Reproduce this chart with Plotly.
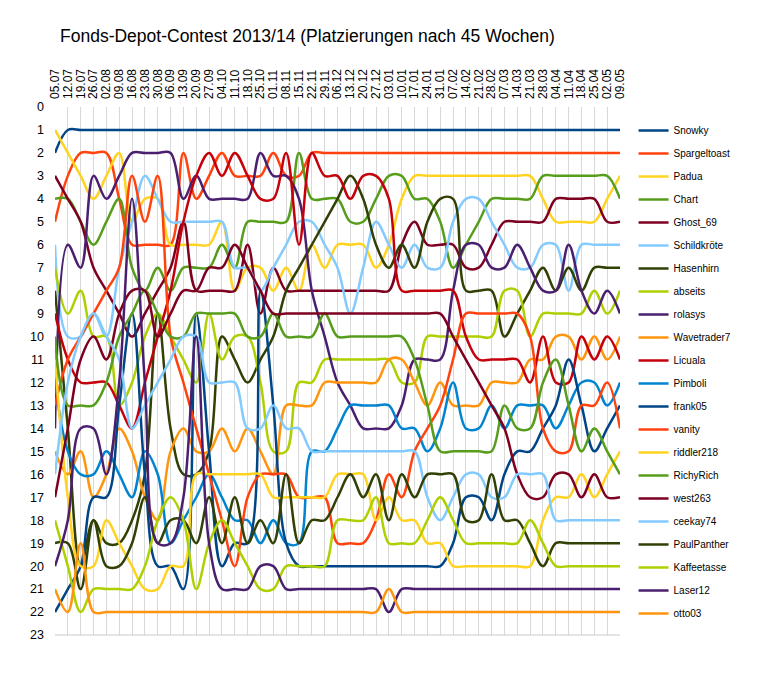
import plotly.graph_objects as go

# Wochen (Stichtage)
wochen = ['05.07', '12.07', '19.07', '26.07', '02.08', '09.08', '16.08', '23.08', '30.08',
          '06.09', '13.09', '20.09', '27.09', '04.10', '11.10', '18.10', '25.10', '01.11',
          '08.11', '15.11', '22.11', '29.11', '06.12', '13.12', '20.12', '27.12', '03.01',
          '10.01', '17.01', '24.01', '31.01', '07.02', '14.02', '21.02', '28.02', '07.03',
          '14.03', '21.03', '28.03', '04.04', '11.04', '18.04', '25.04', '02.05', '09.05']

# Platzierungen je Teilnehmer
snowky = [2] + [1] * 44
spargeltoast = [5, 3, 2, 2, 2, 4, 6, 6, 6, 6, 2, 4, 3, 2, 3, 3, 3, 2, 3, 3, 2, 2] + [2] * 23
padua = [1, 2, 3, 4, 3, 2, 5, 4, 4, 6, 6, 6, 6, 5, 8, 7, 7, 8, 7, 8, 6, 7,
         6, 6, 6, 7, 6, 4, 3, 3, 3, 3, 3, 3, 3, 3, 3, 3, 4, 5, 5, 5, 5, 4, 3]
chart = [4, 4, 5, 6, 5, 4, 7, 8, 7, 8, 7, 7, 7, 6, 7, 5, 5, 5, 5, 2, 4, 4,
         4, 5, 5, 4, 3, 3, 4, 4, 5, 7, 6, 5, 4, 4, 4, 4, 3, 3, 3, 3, 3, 3, 4]
ghost_69 = [3, 4, 5, 7, 8, 9, 10, 9, 8, 7, 5, 8, 8, 8, 8, 6, 9, 7, 8, 8, 8, 8,
            8, 8, 8, 8, 8, 6, 5, 6, 6, 6, 7, 7, 6, 5, 5, 5, 5, 4, 4, 4, 4, 5, 5]
schildkroete = [6, 10, 10, 9, 10, 7, 5, 3, 4, 5, 5, 5, 5, 5, 7, 7, 8, 7, 6, 5, 5, 6,
                7, 9, 7, 5, 6, 7, 6, 7, 7, 5, 4, 4, 5, 6, 7, 7, 6, 6, 8, 6, 6, 6, 6]
hasenhirn = [8, 14, 20, 18, 19, 19, 18, 16, 9, 14, 16, 16, 15, 10, 11, 12, 11, 10, 8, 7, 6, 5,
             4, 3, 4, 6, 7, 6, 7, 5, 4, 4, 8, 8, 8, 10, 9, 8, 7, 8, 7, 8, 7, 7, 7]
abseits = [7, 9, 8, 10, 10, 13, 12, 10, 9, 10, 11, 12, 9, 11, 10, 10, 12, 15, 15, 12, 12, 11,
           11, 11, 11, 11, 11, 12, 12, 10, 10, 10, 10, 10, 10, 8, 8, 10, 9, 9, 9, 9, 8, 9, 8]
rolasys = [14, 6, 7, 3, 4, 3, 2, 2, 2, 2, 4, 3, 4, 4, 4, 4, 2, 3, 3, 4, 8, 10,
           12, 13, 14, 14, 14, 13, 11, 11, 11, 8, 6, 6, 7, 7, 6, 7, 8, 8, 6, 8, 9, 8, 9]
wavetrader7 = [15, 16, 15, 17, 16, 14, 15, 17, 18, 15, 14, 15, 15, 14, 15, 14, 15, 16, 13, 13, 13, 12,
               12, 12, 12, 12, 11, 11, 12, 13, 12, 13, 13, 13, 12, 12, 12, 11, 11, 10, 10, 11, 10, 11, 10]
licuala = [9, 11, 12, 12, 12, 13, 14, 12, 10, 8, 5, 3, 2, 3, 2, 3, 4, 4, 2, 6, 2, 3,
           3, 4, 3, 3, 4, 8, 8, 8, 8, 8, 10, 11, 11, 11, 11, 12, 10, 12, 12, 10, 11, 10, 11]
pimboli = [12, 15, 16, 16, 15, 16, 17, 15, 16, 19, 18, 17, 16, 17, 18, 18, 19, 18, 19, 19, 15, 15,
           14, 13, 13, 13, 13, 14, 14, 15, 14, 12, 14, 14, 13, 14, 13, 13, 13, 14, 13, 12, 12, 13, 12]
frank05 = [22, 21, 20, 17, 17, 13, 9, 16, 20, 20, 21, 9, 15, 20, 19, 19, 8, 13, 19, 20, 20, 20,
           20, 20, 20, 20, 20, 20, 20, 20, 20, 19, 17, 17, 18, 16, 15, 15, 14, 13, 11, 13, 15, 14, 13]
vanity = [13, 11, 10, 9, 8, 7, 3, 5, 3, 10, 12, 14, 16, 18, 20, 17, 16, 16, 16, 17, 17, 17,
          19, 19, 19, 18, 16, 17, 15, 14, 13, 11, 9, 9, 9, 9, 9, 10, 14, 15, 15, 13, 13, 12, 14]
riddler218 = [11, 17, 20, 20, 18, 19, 20, 21, 21, 20, 20, 16, 16, 16, 16, 16, 16, 17, 17, 17, 17, 17,
              16, 16, 16, 18, 17, 18, 18, 19, 19, 20, 20, 20, 20, 20, 20, 20, 18, 17, 17, 16, 17, 16, 15]
richyrich = [10, 13, 13, 13, 12, 10, 9, 8, 9, 10, 10, 9, 9, 9, 9, 10, 10, 9, 10, 10, 10, 9,
             10, 10, 10, 10, 10, 10, 11, 13, 15, 15, 15, 15, 15, 13, 14, 14, 12, 11, 13, 15, 14, 15, 16]
west263 = [17, 14, 11, 10, 11, 9, 8, 8, 10, 9, 8, 8, 7, 7, 6, 7, 8, 9, 9, 9, 9, 9,
           9, 9, 9, 9, 9, 9, 9, 9, 9, 10, 11, 12, 13, 14, 16, 17, 17, 16, 16, 17, 16, 17, 17]
ceekay74 = [16, 12, 10, 9, 10, 11, 14, 13, 12, 11, 10, 10, 12, 12, 12, 14, 14, 13, 14, 14, 15, 15,
            15, 15, 15, 15, 15, 15, 15, 17, 18, 17, 16, 16, 17, 17, 16, 16, 16, 18, 18, 18, 18, 18, 18]
paulpanther = [19, 19, 21, 18, 20, 20, 19, 17, 19, 18, 18, 19, 17, 19, 17, 19, 18, 19, 16, 19, 18, 18,
               17, 16, 17, 16, 18, 16, 17, 16, 16, 16, 18, 18, 16, 18, 18, 19, 20, 19, 19, 19, 19, 19, 19]
kaffeetasse = [18, 20, 22, 21, 21, 21, 21, 20, 18, 17, 18, 21, 19, 18, 19, 20, 21, 21, 20, 20, 20, 20,
               18, 18, 18, 17, 19, 19, 19, 18, 17, 18, 19, 19, 19, 19, 19, 18, 19, 20, 20, 20, 20, 20, 20]
laser12 = [20, 18, 14, 14, 16, 12, 4, 12, 19, 19, 17, 10, 19, 21, 21, 21, 20, 20, 21, 21, 21, 21,
           21, 21, 21, 21, 22] + [21] * 18
otto03 = [21, 22, 19] + [22] * 19 + [22, 22, 22, 22, 21] + [22] * 18

serien = [
    ('Snowky', snowky, '#004586'),
    ('Spargeltoast', spargeltoast, '#ff420e'),
    ('Padua', padua, '#ffd320'),
    ('Chart', chart, '#579d1c'),
    ('Ghost_69', ghost_69, '#7e0021'),
    ('Schildkröte', schildkroete, '#83caff'),
    ('Hasenhirn', hasenhirn, '#314004'),
    ('abseits', abseits, '#aecf00'),
    ('rolasys', rolasys, '#4b1f6f'),
    ('Wavetrader7', wavetrader7, '#ff950e'),
    ('Licuala', licuala, '#c5000b'),
    ('Pimboli', pimboli, '#0084d1'),
    ('frank05', frank05, '#004586'),
    ('vanity', vanity, '#ff420e'),
    ('riddler218', riddler218, '#ffd320'),
    ('RichyRich', richyrich, '#579d1c'),
    ('west263', west263, '#7e0021'),
    ('ceekay74', ceekay74, '#83caff'),
    ('PaulPanther', paulpanther, '#314004'),
    ('Kaffeetasse', kaffeetasse, '#aecf00'),
    ('Laser12', laser12, '#4b1f6f'),
    ('otto03', otto03, '#ff950e'),
]

x = list(range(len(wochen)))

fig = go.Figure()
for name, werte, farbe in serien:
    fig.add_trace(go.Scatter(
        x=x, y=werte, name=name, mode='lines', legendgroup=name,
        line=dict(color=farbe, width=2.5, shape='spline', smoothing=1.0)
    ))

# Seite hat 8px Rand -> Figur etwas kleiner
fig.update_layout(
    width=762, height=670,
    margin=dict(l=47, r=150, t=99, b=43, autoexpand=False),
    paper_bgcolor='white', plot_bgcolor='white',
    font=dict(family='Liberation Sans, Arial, sans-serif', color='#000000'),
    title=dict(text='Fonds-Depot-Contest 2013/14 (Platzierungen nach 45 Wochen)',
               x=52 / 762, xanchor='left', xref='container',
               y=1 - 28 / 670, yanchor='middle', yref='container',
               font=dict(size=17.5, color='#000000')),
    showlegend=True,
    legend=dict(x=1.024, xanchor='left', y=1 - 9 / 528, yanchor='top',
                maxheight=600,
                font=dict(size=10, color='#000000'), tracegroupgap=4,
                bgcolor='rgba(0,0,0,0)'),
)

fig.update_xaxes(
    side='top', range=[0, 44], tickmode='array', tickvals=x, ticktext=wochen,
    tickangle=-90, tickfont=dict(size=12, color='#000000'), automargin=False,
    showgrid=True, gridcolor='#d9d9d9', gridwidth=1, zeroline=False,
    showline=False, ticks='', ticklabelstandoff=7
)
fig.update_yaxes(
    range=[23, 0], tickmode='linear', tick0=0, dtick=1, automargin=False,
    tickfont=dict(size=12.5, color='#000000'), showgrid=False, zeroline=False,
    showline=False, ticks='', ticklabelstandoff=10
)

# untere Achsenlinie
fig.add_shape(type='line', xref='paper', yref='paper', x0=0, x1=1, y0=0, y1=0,
              line=dict(color='#c8c8c8', width=1))

fig.write_html('out.html')
